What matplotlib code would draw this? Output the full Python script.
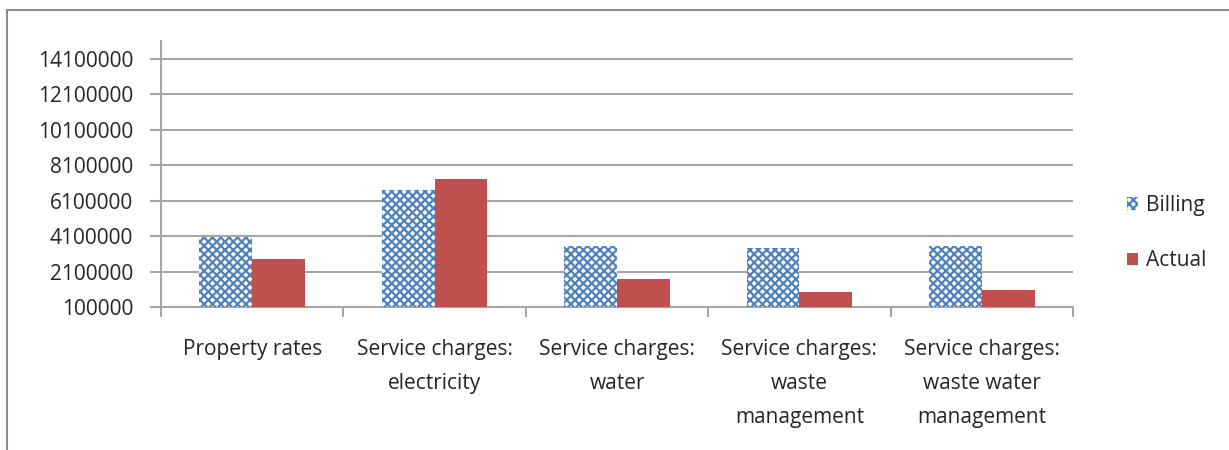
import numpy as np
import matplotlib.pyplot as plt
from matplotlib.patches import Rectangle
from matplotlib.ticker import FixedLocator

categories = ['Property rates', 'Service charges:\nelectricity', 'Service charges:\nwater',
              'Service charges:\nwaste\nmanagement', 'Service charges:\nwaste water\nmanagement']
billing = [4040000, 6700000, 3540000, 3420000, 3540000]
actual = [2800000, 7320000, 1680000, 950000, 1060000]
yticks = [100000, 2100000, 4100000, 6100000, 8100000, 10100000, 12100000, 14100000]

plt.rcParams['font.family'] = ['Open Sans', 'DejaVu Sans']
plt.rcParams['hatch.linewidth'] = 1.6
plt.rcParams['hatch.color'] = '#4F81BD'

fig = plt.figure(figsize=(12.29, 4.5), dpi=100)
ax = fig.add_axes([161/1229, 1 - 307/450, (1073 - 161)/1229, (307 - 41)/450])

x = np.arange(len(categories))
w = 0.29
ax.bar(x - w/2, billing, w, color='white', edgecolor='#4F81BD', hatch='xxxx',
       linewidth=0, label='Billing', zorder=3)
ax.bar(x + w/2, actual, w, color='#C0504D', linewidth=0, label='Actual', zorder=3)

ax.set_xlim(-0.5, len(categories) - 0.5)
ax.set_ylim(100000, 15120000)
ax.set_yticks(yticks)
ax.set_yticklabels([str(v) for v in yticks])
ax.yaxis.grid(True, color='#A6A6A6', linewidth=1.5, zorder=0)
ax.set_axisbelow(True)

ax.set_xticks(x)
ax.set_xticklabels(categories, linespacing=1.8, color='#262626')
ax.xaxis.set_minor_locator(FixedLocator(np.arange(-0.5, len(categories), 1.0)))
ax.tick_params(axis='x', which='major', length=0, pad=23, labelsize=15)
ax.tick_params(axis='x', which='minor', length=7, width=1.5, color='#A6A6A6', direction='out')
ax.tick_params(axis='y', length=8, width=1.5, color='#A6A6A6', pad=12, labelsize=15, labelcolor='#262626')

for s in ['top', 'right']:
    ax.spines[s].set_visible(False)
for s in ['left', 'bottom']:
    ax.spines[s].set_color('#A6A6A6')
    ax.spines[s].set_linewidth(1.5)

leg = fig.legend(loc='center left', bbox_to_anchor=(1108/1229, 1 - 233/450), frameon=False,
                 fontsize=15, handlelength=0.55, handleheight=0.55, handletextpad=0.35,
                 labelspacing=1.65, labelcolor='#262626')

# chart frame (left and top edges visible)
fig.patches.append(Rectangle((7/1229, -0.1), 1.2, (1 - 10/450) + 0.1, transform=fig.transFigure,
                             fill=False, edgecolor='#8C8C8C', linewidth=1.5))

plt.savefig('out.png', dpi=100)
